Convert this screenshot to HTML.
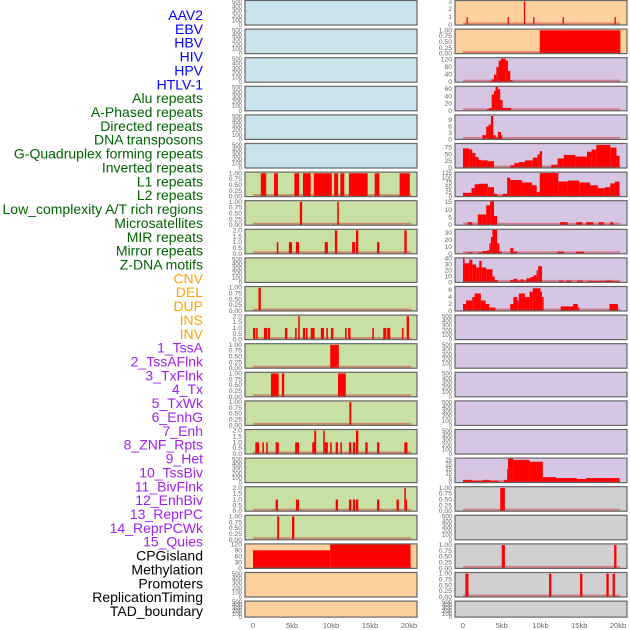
<!DOCTYPE html>
<html><head><meta charset="utf-8"><style>
html,body{margin:0;padding:0;background:#fff;}
svg{display:block;font-family:"Liberation Sans",sans-serif;}
</style></head><body>
<svg id="chart" width="630" height="630" viewBox="0 0 630 630" xmlns="http://www.w3.org/2000/svg">
<g id="labels"></g>
<g id="panels"></g>
<g id="xaxes"></g>
</svg>
<script>
const trackLabels = ["AAV2","EBV","HBV","HIV","HPV","HTLV-1","Alu repeats","A-Phased repeats","Directed repeats","DNA transposons","G-Quadruplex forming repeats","Inverted repeats","L1 repeats","L2 repeats","Low_complexity A/T rich regions","Microsatellites","MIR repeats","Mirror repeats","Z-DNA motifs","CNV","DEL","DUP","INS","INV","1_TssA","2_TssAFlnk","3_TxFlnk","4_Tx","5_TxWk","6_EnhG","7_Enh","8_ZNF_Rpts","9_Het","10_TssBiv","11_BivFlnk","12_EnhBiv","13_ReprPC","14_ReprPCWk","15_Quies","CPGisland","Methylation","Promoters","ReplicationTiming","TAD_boundary"];
const labelGroups = ["v","v","v","v","v","v","g","g","g","g","g","g","g","g","g","g","g","g","g","o","o","o","o","o","p","p","p","p","p","p","p","p","p","p","p","p","p","p","p","k","k","k","k","k"];
const xTickLabels = ["0","5kb","10kb","15kb","20kb"];
const xTickValues = [0,5,10,15,20];

// left column data [startKb, endKb, value]
const leftL1 = [[1.0,1.7,1],[2.7,3.2,1],[5.3,5.9,1],[6.4,7.4,1],[7.8,10.1,1],[10.4,10.9,1],[11.2,11.7,1],[12.3,14.7,1],[15.6,16.2,1],[18.8,20.1,1]];
const leftLowComplex = [[6.0,6.3,1],[10.8,11.0,1]];
const leftMicro = [[3.05,3.25,1],[4.6,5.0,1],[5.5,5.9,1],[9.2,9.6,1],[10.5,10.8,2],[12.7,13.1,1],[13.2,13.5,2],[15.9,16.2,1],[19.4,19.7,2]];
const leftZdna = [[0.7,1.0,1]];
const leftRow11 = [[0,0.3,1],[0.4,0.6,1],[1.4,1.8,1],[1.9,2.2,1],[4.1,4.4,1],[5.4,5.6,1],[5.8,6.0,2],[6.4,6.7,1],[6.8,7.0,1],[7.4,7.9,1],[8.7,9.1,1],[9.4,9.6,1],[10.0,10.3,1],[11.8,12.0,1],[12.2,12.5,1],[15.3,15.5,1],[16.7,17.1,1],[17.2,17.6,1],[19.1,19.3,1],[19.7,20.0,2]];
const leftRow12 = [[9.9,11.0,1]];
const leftRow13 = [[2.3,3.3,1],[3.7,4.0,1],[10.9,11.9,1]];
const leftRow14 = [[12.35,12.6,1]];
const leftRow15 = [[0.3,0.8,1],[1.2,1.4,1],[1.7,1.9,1],[2.9,3.3,1],[5.4,5.9,1],[7.6,7.9,1],[7.85,8.1,2],[9.0,9.2,2],[9.2,9.6,1],[9.9,10.1,1],[10.6,10.9,1],[11.2,11.4,1],[12.3,12.6,1],[12.8,13.1,1],[13.2,13.5,2],[14.4,14.7,1],[15.9,16.2,1],[19.4,19.8,1]];
const leftRow17 = [[2.9,3.2,1],[5.5,5.9,1],[10.6,10.9,1],[12.3,12.6,1],[12.8,13.1,1],[13.2,13.5,1],[15.9,16.2,1],[18.4,18.7,1],[19.4,19.6,2],[19.6,19.75,1]];
const leftRow18 = [[3.1,3.35,1],[5.0,5.3,1]];
const leftRow19 = [[0,9.9,90],[9.9,20.2,120]];

// right column data
const rightAAV2 = [[0.45,0.62,1],[5.75,5.92,1],[7.85,8.02,3],[9.05,9.22,1],[12.85,13.02,1],[19.55,19.72,1]];
const rightEBV = [[9.9,20.3,1]];
const rightHIV = [[3.4,3.7,5],[3.7,4.0,15],[4.0,4.3,40],[4.3,4.6,80],[4.6,4.9,115],[4.9,5.5,125],[5.5,5.8,115],[5.8,6.1,60],[6.1,6.4,10]];
const rightHPV = [[3.1,3.4,5],[3.4,3.7,8],[3.7,4.0,45],[4.0,4.2,55],[4.2,4.5,68],[4.5,4.8,60],[4.8,5.1,30],[5.1,6.2,8]];
const rightDNA = [[2.5,3.0,2],[3.0,3.3,6],[3.3,3.6,7],[3.6,3.9,11],[3.9,4.2,2],[4.2,4.5,1],[4.5,4.9,3.5],[4.9,5.0,2]];
const rightGquad = [[0,0.8,72],[0.8,1.2,68],[1.2,1.6,55],[1.6,2.0,40],[2.0,2.4,30],[2.4,3.2,28],[3.2,4.0,25],[6.1,6.6,10],[6.6,7.2,18],[7.2,8.0,22],[8.0,9.0,28],[9.0,9.6,38],[9.6,9.9,50],[9.9,10.2,62],[11.4,12.2,12],[12.2,13.0,35],[13.0,14.5,48],[14.5,16.0,42],[16.0,16.6,60],[16.6,17.2,68],[17.2,19.0,85],[19.0,19.8,75],[19.8,20.2,45]];
const rightInverted = [[0,1.1,20],[1.1,1.5,45],[1.5,2.0,65],[2.0,3.2,68],[3.2,4.0,50],[4.0,4.4,15],[4.4,5.1,5],[5.1,5.7,15],[5.7,6.1,100],[6.1,7.6,88],[7.6,8.9,75],[8.9,9.5,60],[9.5,9.9,25],[9.9,12.3,125],[12.3,13.5,80],[13.5,15.0,85],[15.0,16.4,75],[16.4,17.4,60],[17.4,18.3,45],[18.3,19.0,50],[19.0,19.6,70],[19.6,20.2,80]];
const rightL2 = [[0.6,1.2,2],[1.9,2.5,7],[2.5,3.0,7],[3.0,3.5,13],[3.5,4.0,16],[4.0,4.4,6],[12.5,13.5,2],[14.6,15.4,2],[15.9,16.8,2],[17.5,18.2,2],[19.0,19.4,2]];
const rightMIR = [[0.6,1.2,2],[1.9,2.5,2],[2.5,3.1,4],[3.1,3.4,5],[3.4,3.6,15],[3.6,3.8,24],[3.8,4.4,34],[4.4,4.7,15],[4.7,5.0,3],[6.1,6.5,8],[6.5,7.0,3],[12.2,13.0,3],[14.6,15.6,3]];
const rightMirror = [[0,0.2,40],[0.2,0.8,32],[0.8,1.2,38],[1.2,1.7,30],[1.7,2.1,25],[2.1,2.4,36],[2.4,3.0,25],[3.0,3.8,22],[3.8,4.1,10],[4.1,4.5,4],[6.1,6.5,4],[6.5,7.0,6],[7.0,7.4,3],[7.4,7.8,5],[7.8,8.2,3],[8.2,8.7,7],[8.7,9.1,9],[9.1,9.5,12],[9.5,9.7,20],[9.7,10.2,27],[12.4,13.0,3],[13.3,14.0,3],[14.7,15.5,3],[16.0,18.4,2],[18.4,19.3,3],[19.3,20.2,2]];
const rightZdna = [[0,0.4,2],[0.4,1.2,3],[1.2,1.5,4],[1.5,2.3,5],[2.3,2.9,3],[2.9,3.4,2],[3.4,4.2,1],[6.1,6.5,2],[6.5,7.0,4],[7.0,7.2,3],[7.2,8.0,5],[8.0,8.6,4],[8.6,9.0,5.5],[9.0,10.0,6.5],[10.0,10.2,5.5],[10.2,10.4,4],[12.6,14.2,1.3],[14.2,14.8,2],[14.8,15.0,1],[18.9,20.0,2]];
const rightHet = [[0,1.1,3],[1.1,2.6,2],[2.6,3.5,3],[3.5,4.6,2],[5.3,5.7,3],[5.7,5.8,15],[5.8,6.5,27],[6.5,8.6,25],[8.6,8.9,23],[8.9,10.3,23],[10.3,12.0,6],[12.0,14.7,5],[14.7,15.9,4],[15.9,20.2,5]];
const rightRow17 = [[4.8,5.4,1]];
const rightRow19 = [[5.0,5.4,1],[19.5,19.8,1]];
const rightRow20 = [[0.3,0.7,1],[11.1,11.4,1],[15.1,15.4,1],[18.5,18.8,1],[19.3,19.6,1]];

// tick label sets
const ticksEmpty = ["0","100","200","300","400","500"];
const ticksOne = ["0.00","0.25","0.50","0.75","1.00"];
const ticksTwo = ["0.0","0.5","1.0","1.5","2.0"];

const BLUE="#c9e3ec", GREEN="#c8e0a3", ORANGE="#fdd09e", PURPLE="#d6c6e3", GRAY="#d0d0d0";

// [data, ticks, ylimTop, bg]
const leftPanels = [
 [null,ticksEmpty,530,BLUE],[null,ticksEmpty,530,BLUE],[null,ticksEmpty,530,BLUE],[null,ticksEmpty,530,BLUE],[null,ticksEmpty,530,BLUE],[null,ticksEmpty,530,BLUE],
 [leftL1,ticksOne,1.05,GREEN],[leftLowComplex,ticksOne,1.05,GREEN],[leftMicro,ticksTwo,2.1,GREEN],[null,ticksEmpty,530,GREEN],[leftZdna,ticksOne,1.05,GREEN],
 [leftRow11,ticksTwo,2.1,GREEN],[leftRow12,ticksOne,1.05,GREEN],[leftRow13,ticksOne,1.05,GREEN],[leftRow14,ticksOne,1.05,GREEN],[leftRow15,ticksTwo,2.1,GREEN],
 [null,ticksEmpty,530,GREEN],[leftRow17,ticksTwo,2.1,GREEN],[leftRow18,ticksOne,1.05,GREEN],[leftRow19,["0","30","60","90","120"],122,ORANGE],
 [null,ticksEmpty,530,ORANGE],[null,ticksEmpty,530,ORANGE]
];
const rightPanels = [
 [rightAAV2,["0","1","2","3"],3.1,ORANGE],[rightEBV,ticksOne,1.05,ORANGE],[rightHIV,["0","40","80","120"],130,PURPLE],[rightHPV,["0","20","40","60"],68,PURPLE],
 [rightDNA,["0","3","6","9"],11.5,PURPLE],[rightGquad,["0","25","50","75"],90,PURPLE],[rightInverted,["0","25","50","75","100","125"],130,PURPLE],
 [rightL2,["0","5","10","15"],16,PURPLE],[rightMIR,["0","10","20","30"],35,PURPLE],[rightMirror,["0","10","20","30","40"],41,PURPLE],[rightZdna,["0","2","4","6"],7,PURPLE],
 [null,ticksEmpty,530,PURPLE],[null,ticksEmpty,530,PURPLE],[null,ticksEmpty,530,PURPLE],[null,ticksEmpty,530,PURPLE],[null,ticksEmpty,530,PURPLE],
 [rightHet,["0","5","10","15","20","25"],27,PURPLE],[rightRow17,ticksOne,1.05,GRAY],[null,ticksEmpty,530,GRAY],[rightRow19,ticksOne,1.05,GRAY],[rightRow20,ticksOne,1.05,GRAY],[null,ticksEmpty,530,GRAY]
];

const NS="http://www.w3.org/2000/svg";
function mk(tag, attrs, parent){const e=document.createElementNS(NS,tag);for(const k in attrs)e.setAttribute(k,attrs[k]);parent.appendChild(e);return e;}
const colorMap={v:"#0000ff",g:"#006400",o:"#ffa500",p:"#a020f0",k:"#000000"};

const labelsG=document.getElementById("labels");
trackLabels.forEach((t,i)=>{
  const el=mk("text",{x:203,y:15+i*(596/43),"text-anchor":"end","dominant-baseline":"central","font-size":"14",fill:colorMap[labelGroups[i]]},labelsG);
  
  
  el.textContent=t;
});

const panelsG=document.getElementById("panels");
const cols=[{x0:245,x1:417,zero:253,perKb:7.8,list:leftPanels,side:"left"},{x0:455,x1:627,zero:463,perKb:7.75,list:rightPanels,side:"right"}];
function rowTop(i){return 0.5+i*28.6;}
function rowH(i){return i===21?16:24.5;}

cols.forEach(c=>{
  const xs=kb=>c.zero+kb*c.perKb;
  c.list.forEach((p,i)=>{
    const [data,ticks,ylim,bg]=p;
    const top=rowTop(i), h=rowH(i), bot=top+h;
    const ys=v=>bot-v/ylim*h;
    const g=mk("g",{},panelsG);
    
    
    const bgr=mk("rect",{x:c.x0,y:top,width:c.x1-c.x0,height:h,fill:bg},g);
    
    
    if(data){
      data.forEach(d=>{
        const r=mk("rect",{x:xs(d[0]),y:ys(d[2]),width:Math.max(1.2,xs(d[1])-xs(d[0])),height:bot-ys(d[2]),fill:"#ff0000"},g);
        
        
      });
      const bl=mk("rect",{x:xs(0),y:bot-2.5,width:xs(20.3)-xs(0),height:2,fill:"rgba(200,40,40,0.45)"},g);
      
      
    }
    const br=mk("rect",{x:c.x0,y:top,width:c.x1-c.x0,height:h,fill:"none",stroke:"#666",  "stroke-width":1.2},g);
    
    
    const fs = ticks.length>5 ? 6 : 6.8;
    ticks.forEach(t=>{
      const v=parseFloat(t);
      const tt=mk("text",{x:c.x0-3,y:ys(v)+2,"text-anchor":"end","font-size":fs,fill:"#666"},g);
      
      
      tt.textContent=t;
    });
  });
  const xa=document.getElementById("xaxes");
  xTickValues.forEach((v,j)=>{
    const t=mk("text",{x:xs(v),y:628,"text-anchor":"middle","font-size":"7.5",fill:"#666"},xa);
    
    
    t.textContent=xTickLabels[j];
  });
});
</script>
</body></html>
